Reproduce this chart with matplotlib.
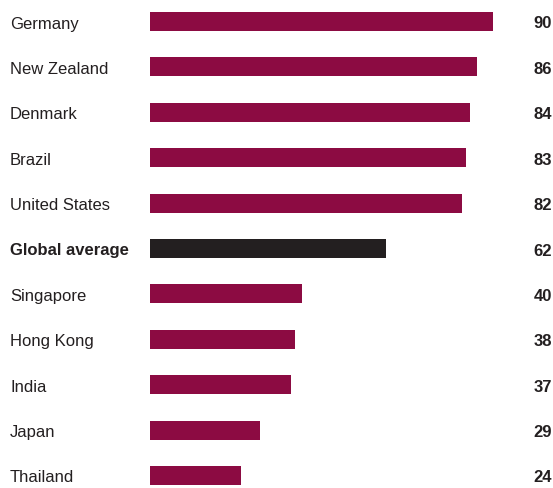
import matplotlib.pyplot as plt
import matplotlib.transforms as mtransforms

countries = ["Germany", "New Zealand", "Denmark", "Brazil", "United States",
             "Global average", "Singapore", "Hong Kong", "India", "Japan", "Thailand"]
values = [90, 86, 84, 83, 82, 62, 40, 38, 37, 29, 24]
highlight = "Global average"

maroon = "#8c0b42"
dark = "#231f20"

plt.rcParams['font.family'] = ['Liberation Sans Narrow', 'Liberation Sans', 'DejaVu Sans']

W, H = 553, 488
fig = plt.figure(figsize=(W / 100, H / 100), dpi=100)
# bars run from x=150px to x=493px for 0..90
ax = fig.add_axes([150 / W, 0, (492.7 - 150) / W, 1])
ax.set_xlim(0, 90)

step = 45.4
ax.set_ylim((H - 21.5) / step, -21.5 / step)

colors = [dark if c == highlight else maroon for c in countries]
ypos = list(range(len(countries)))
ax.barh(ypos, values, height=19 / step, color=colors, left=0)
ax.axis('off')

# labels sit a touch below the bar centre
trans = mtransforms.blended_transform_factory(fig.transFigure, ax.transData)
trans = trans + mtransforms.ScaledTranslation(0, -2.5 / 100, fig.dpi_scale_trans)
for y, c, v in zip(ypos, countries, values):
    bold = c == highlight
    ax.text(10 / W, y, c, transform=trans, ha='left', va='center',
            fontsize=12, color='#231f20', fontweight='bold' if bold else 'normal')
    ax.text(552 / W, y, str(v), transform=trans, ha='right', va='center',
            fontsize=12, color='#231f20', fontweight='bold')

fig.savefig("out.png", dpi=100)
